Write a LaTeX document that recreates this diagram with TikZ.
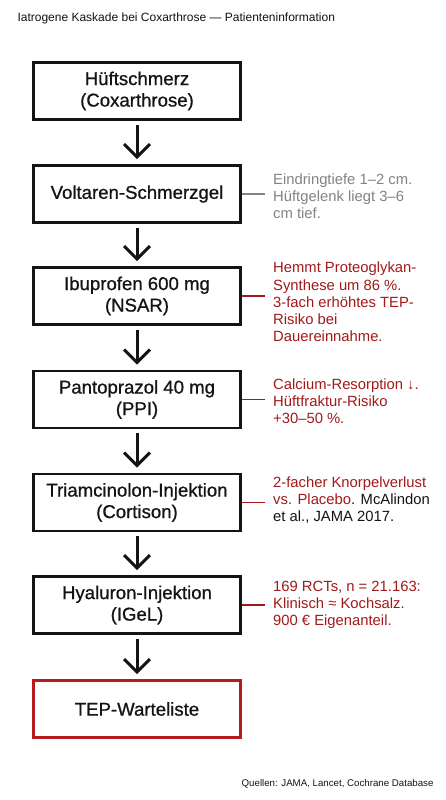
\documentclass[tikz,border=0pt]{standalone}
\usepackage{fontspec}
\setmainfont{Liberation Sans}
\newfontfamily\boxfont{Liberation Sans}[FakeBold=0.8]
\definecolor{ckText}{HTML}{141414}
\definecolor{ckRed}{HTML}{A31919}
\definecolor{ckBoxRed}{HTML}{B71C1C}
\definecolor{ckGray}{HTML}{838383}
\usetikzlibrary{calc,positioning,arrows.meta}
\tikzset{
  stepbox/.style={draw=ckText, line width=2.6pt, minimum width=207pt, minimum height=57pt,
    align=center, inner sep=2pt, text=ckText, font=\boxfont\fontsize{18.6}{21.5}\selectfont},
  flow/.style={draw=ckText, line width=3pt, shorten <=4pt, shorten >=5pt,
    -{Straight Barb[length=13pt,width=26pt]}},
  note/.style={anchor=west, inner sep=0pt, align=left, font=\fontsize{14.8}{17.2}\selectfont},
  link/.style={line width=1.4pt, shorten >=8pt}
}

\begin{document}
\begin{tikzpicture}[x=1pt,y=-1pt]
  \useasboundingbox (0,0) rectangle (446,800);
  \fill[white] (0,0) rectangle (446,800);

  % Title
  \node[anchor=west, text=ckText, font=\fontsize{12}{14}\selectfont] (title) at (14,18)
    {Iatrogene Kaskade bei Coxarthrose --- Patienteninformation};

  % Steps
  \node[stepbox] (pain) at (137,91) {Hüftschmerz\\(Coxarthrose)};
  \node[stepbox] (gel) at (137,194) {Voltaren-Schmerzgel};
  \node[stepbox] (ibu) at (137,296) {Ibuprofen 600 mg\\(NSAR)};
  \node[stepbox] (ppi) at (137,399.5) {Pantoprazol 40 mg\\(PPI)};
  \node[stepbox] (cort) at (137,502.5) {Triamcinolon-Injektion\\(Cortison)};
  \node[stepbox] (hyal) at (137,605) {Hyaluron-Injektion\\(IGeL)};
  \node[stepbox, draw=ckBoxRed] (tep) at (137,709) {TEP-Warteliste};

  \draw[flow] (pain) -- (gel);
  \draw[flow] (gel) -- (ibu);
  \draw[flow] (ibu) -- (ppi);
  \draw[flow] (ppi) -- (cort);
  \draw[flow] (cort) -- (hyal);
  \draw[flow] (hyal) -- (tep);

  % Notes
  \node[note, text=ckGray] (gelNote) at (273,196)
    {Eindringtiefe 1–2 cm.\\Hüftgelenk liegt 3–6\\cm tief.};
  \node[note, text=ckRed] (ibuNote) at (273,302)
    {Hemmt Proteoglykan-\\Synthese um 86 \%.\\3-fach erhöhtes TEP-\\Risiko bei\\Dauereinnahme.};
  \node[note, text=ckRed] (ppiNote) at (273,401)
    {Calcium-Resorption ↓.\\Hüftfraktur-Risiko\\+30–50 \%.};
  \node[note, text=ckRed] (cortNote) at (273,500)
    {2-facher Knorpelverlust\\vs. Placebo{\color{ckText}. McAlindon}\\{\color{ckText}et al., JAMA 2017.}};
  \node[note, text=ckRed] (hyalNote) at (273,605)
    {169 RCTs, n = 21.163:\\Klinisch ≈ Kochsalz.\\900 € Eigenanteil.};

  \draw[link, ckGray] (gel.east) -- (gel.east -| gelNote.west);
  \draw[link, ckRed] (ibu.east) -- (ibu.east -| ibuNote.west);
  \draw[link, ckRed] (ppi.east) -- (ppi.east -| ppiNote.west);
  \draw[link, ckRed] (cort.east) -- (cort.east -| cortNote.west);
  \draw[link, ckRed] (hyal.east) -- (hyal.east -| hyalNote.west);

  % Footer
  \node[anchor=east, text=ckText, font=\fontsize{9.7}{12}\selectfont] (src) at (437,784)
    {Quellen: JAMA, Lancet, Cochrane Database};
\end{tikzpicture}
\end{document}
